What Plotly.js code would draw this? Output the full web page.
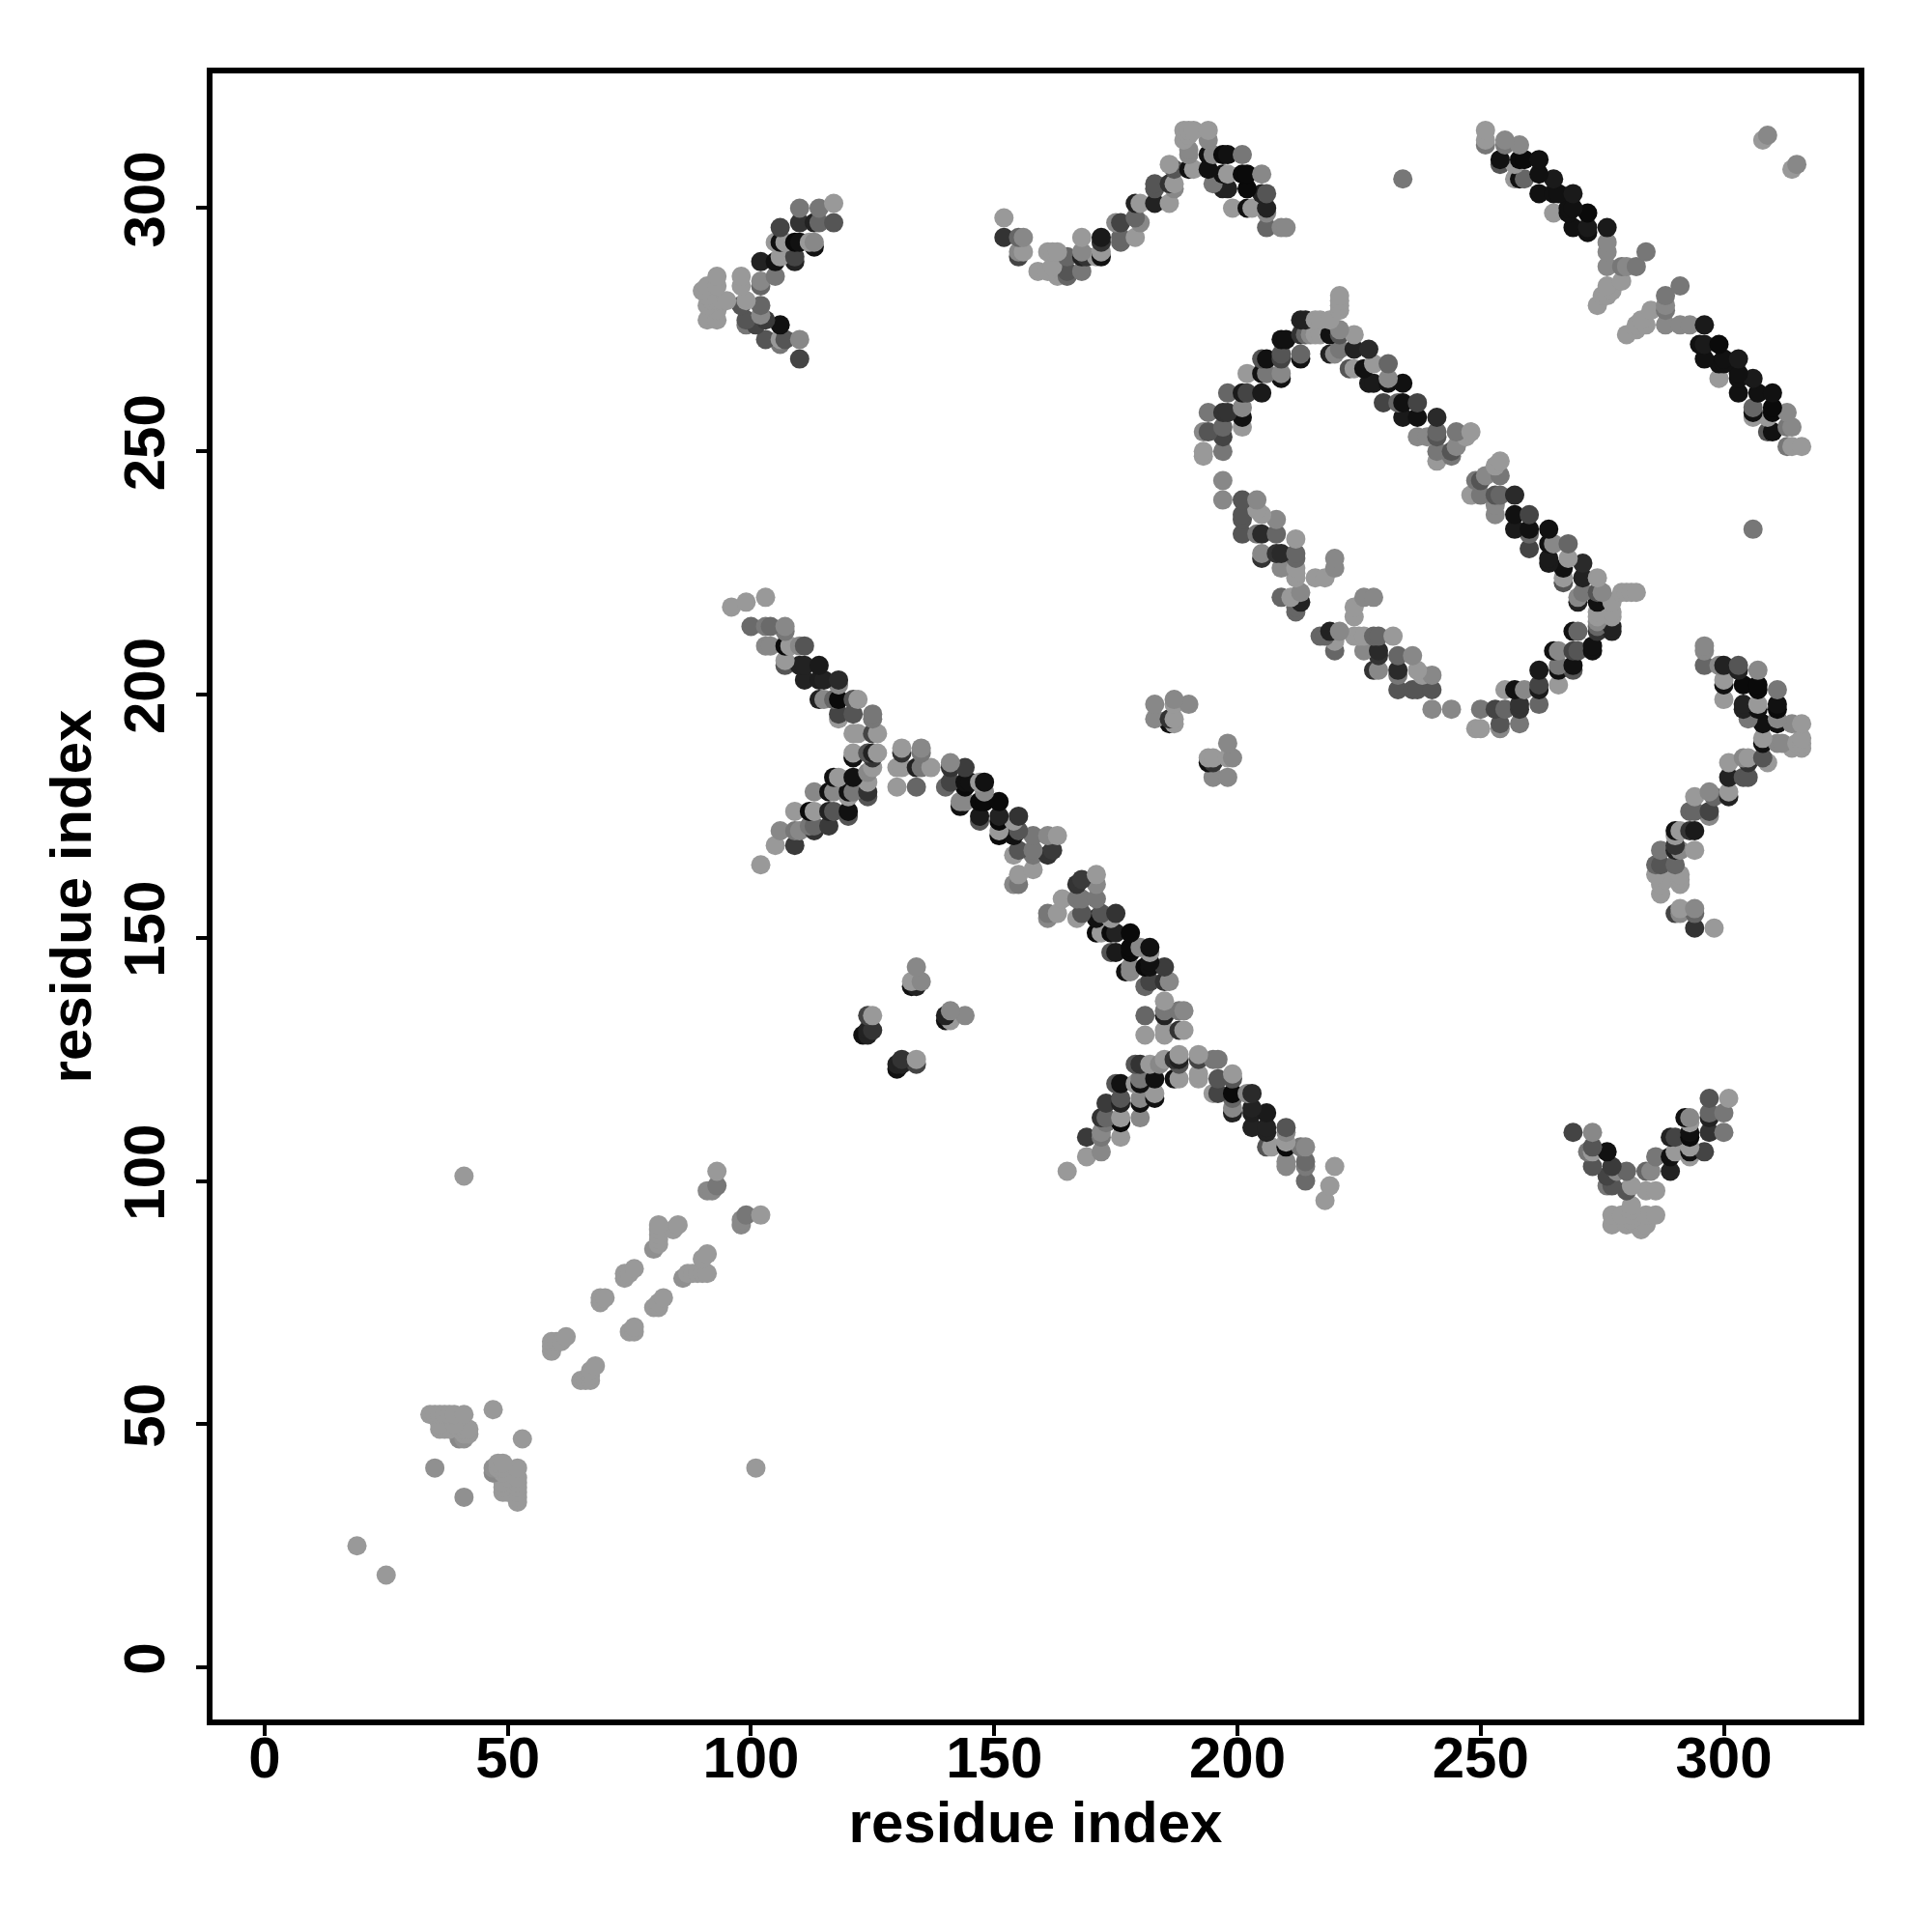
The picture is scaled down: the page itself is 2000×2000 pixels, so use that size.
<!DOCTYPE html>
<html>
<head>
<meta charset="utf-8">
<script src="https://cdn.plot.ly/plotly-3.0.1.min.js"></script>
<style>html,body{margin:0;padding:0;background:#fff}</style>
</head>
<body>
<div id="chart" style="width:2000px;height:2000px"></div>
<script>
const sparseLow = [
[19,25,0x99],[41,101,0x99],[93,102,0x99],[93,99,0x77],[91,98,0x88],[92,98,0x88],
[85,91,0x99],[84,90,0x99],[81,91,0x99],[81,90,0x99],[81,89,0x99],[81,88,0x99],[81,87,0x99],[80,86,0x90],
[76,82,0x99],[75,81,0x99],[74,81,0x99],[74,80,0x99],[70,76,0x99],[69,76,0x99],[69,75,0x99],
[62,68,0x99],[61,67,0x99],[60,67,0x99],[59,67,0x99],[59,66,0x99],[59,65,0x99],
[34,52,0x99],[35,52,0x99],[36,52,0x99],[37,52,0x99],[38,52,0x99],[39,52,0x99],[41,52,0x99],[47,53,0x99],
[36,50,0x99],[36,49,0x99],[37,49,0x99],[38,49,0x99],[39,50,0x99],[40,49,0x99],[41,49,0x99],[42,49,0x99],
[42,48,0x99],[41,48,0x99],[40,47,0x88],[41,47,0x90],[35,41,0x90]
];
const armNorthWest = [
[96,218,0x99],[99,219,0x99],[103,220,0x99],[100,214,0x6a],[103,214,0x7a],[104,214,0x6a],[107,214,0x88],[107,213,0x77],
[103,210,0x88],[104,210,0x88],[107,210,0x0a],[108,210,0x99],[110,210,0x88],[111,210,0x55],
[107,207,0x99],[107,206,0x55],[110,206,0x22],[111,206,0x22],[114,206,0x1a],
[111,203,0x22],[114,203,0x1e],[115,203,0x22],[118,203,0x2a],[118,202,0x88],
[114,199,0x22],[115,199,0x88],[117,199,0x66],[118,199,0x0a],[121,199,0x55],[122,199,0x99],
[118,196,0x44],[118,195,0x99],[121,196,0x55],[125,196,0x77],[125,195,0x77],
[121,192,0x99],[122,192,0x99],[125,192,0x44],[126,192,0x99],
[121,188,0x99],[121,187,0x11],[124,188,0x55],[125,188,0x22],[126,188,0x99],[125,187,0x33],[125,185,0x99],[124,184,0x88],[124,182,0x99],[124,180,0x33],[124,179,0x55],
[102,165,0x99],[105,169,0x99],[106,172,0x88],[109,169,0x3a],[109,176,0x99],[109,172,0x77],[110,172,0x88],
[113,180,0x88],[113,176,0x99],[112,176,0x0a],[113,172,0x33],[113,173,0x66],[112,173,0x77],[116,173,0x3a],
[117,183,0x11],[118,183,0x99],[121,183,0x11],[116,180,0x11],[117,180,0x88],[120,180,0x11],[121,180,0x77],[120,179,0x99],
[116,176,0x22],[117,176,0x55],[120,176,0x11],[120,175,0x55]
];
const bandCentre = [
[131,189,0x99],[131,188,0x33],[135,189,0x88],[135,188,0x77],[130,185,0x99],[131,185,0x99],[134,185,0x22],[135,185,0x77],[137,185,0x99],
[130,181,0x99],[134,181,0x66],
[141,186,0x88],[141,185,0x33],[144,185,0x3c],[140,181,0x66],[141,182,0x44],[144,182,0x11],[145,182,0x11],[144,181,0x0a],[147,182,0x99],[148,182,0x11],[148,180,0x88],
[143,178,0x88],[143,177,0x11],[144,178,0x88],[147,178,0x0a],[148,178,0x0a],[151,178,0x0a],
[147,175,0x1a],[147,174,0x55],[151,175,0x22],[151,174,0x0a],[155,175,0x33],[154,174,0x99],
[151,172,0x99],[151,171,0x0a],[155,172,0x55],[154,171,0x11],[158,171,0x77],[161,171,0x88],[163,171,0x99],
[155,168,0x55],[154,167,0x99],[158,168,0x77],[158,167,0x77],[162,168,0x3a],[161,167,0x33],
[155,163,0x99],[158,164,0x99],[155,161,0x77],[154,161,0x88]
];
const smallCross = [
[134,144,0x88],[135,141,0x88],[133,141,0x99],[133,140,0x11],[134,140,0x22],
[124,134,0x44],[125,134,0x99],[124,131,0x22],[125,131,0x33],[123,130,0x11],[124,130,0x22],
[183,198,0x88],[187,199,0x88],[190,198,0x88],[183,195,0x88],[187,198,0x99],[186,195,0x33],[186,194,0x11],[187,195,0x99],[187,194,0x99],
[234,306,0x77],[309,315,0x88],[308,314,0x99]
];
const hookUpper = [
[110,300,0x77],[114,300,0x77],[117,301,0x99],[106,296,0x44],[110,297,0x33],[113,297,0x22],[114,297,0x66],[117,297,0x55],
[105,293,0x99],[106,293,0x11],[107,293,0x99],[109,293,0x0a],[110,293,0x11],[112,293,0x99],[113,292,0x11],[113,293,0x88],
[102,289,0x22],[105,289,0x11],[106,290,0x99],[109,289,0x22],[109,290,0x44],
[105,286,0x77],[102,284,0x66],[102,285,0x88],[98,286,0x99],[98,284,0x99],
[93,286,0x99],[91,284,0x99],[90,283,0x99],[93,284,0x99],[91,282,0x99],[92,281,0x99],[93,281,0x99],[94,281,0x99],[95,281,0x99],
[91,277,0x99],[93,277,0x99],[91,280,0x99],[93,279,0x99],
[98,280,0x55],[99,281,0x99],[102,280,0x66],[102,278,0x88],[99,276,0x77],[99,277,0x55],
[101,276,0x44],[103,277,0x3a],[106,276,0x11],[103,273,0x55],[106,272,0x77],[106,273,0x99],[107,273,0x55],[110,273,0x88],[110,269,0x44]
];
const ridgeTop = [
[152,298,0x99],[152,294,0x33],[155,294,0x66],[156,294,0x88],[155,290,0x44],[155,291,0x88],[156,291,0x99],
[159,287,0x99],[161,291,0x99],[161,287,0x99],[162,291,0x99],[163,291,0x99],[162,288,0x99],[163,286,0x99],
[165,290,0x66],[165,286,0x66],[165,287,0x55],[168,287,0x77],[168,294,0x99],[168,290,0x22],[168,291,0x88],[169,290,0x33],
[172,294,0x1a],[172,293,0x33],[171,290,0x99],[172,290,0x11],[172,291,0x99],
[175,297,0x88],[176,297,0x44],[176,293,0x66],[176,294,0x66],[179,294,0x99],[179,298,0x66],[180,297,0x88],
[179,301,0x22],[180,301,0x99],[183,304,0x55],[183,305,0x55],[183,301,0x22],[186,301,0x99],[186,309,0x99],[186,305,0x33],[187,304,0x88],[187,305,0x99],[187,308,0x55],
[189,316,0x99],[190,316,0x99],[191,316,0x99],[189,314,0x99],[190,315,0x99],[190,312,0x88],[190,311,0x88],[190,308,0x11],[191,308,0x99],
[194,316,0x99],[194,314,0x88],[194,311,0x11],[195,311,0x88],[194,308,0x11],[195,305,0x77],
[197,311,0x0a],[198,311,0x11],[201,311,0x77],[197,307,0x11],[198,307,0x99],[197,304,0x22],[198,304,0x22],[199,300,0x99],
[201,307,0x0a],[202,307,0x0a],[205,307,0x88],[202,304,0x0a],[205,303,0x22],[206,303,0x55],[202,300,0x11],[203,300,0x99],
[206,299,0x88],[206,300,0x22],[206,296,0x66],[209,296,0x88],[210,296,0x88]
];
const bandUpperRight = [
[251,316,0x99],[251,314,0x99],[251,313,0x77],[255,314,0x88],[255,313,0x77],[258,313,0x88],
[254,309,0x55],[254,310,0x11],[257,309,0x99],[258,310,0x0a],[259,310,0x0a],[262,310,0x11],
[257,306,0x99],[258,306,0x11],[259,306,0x66],[262,307,0x11],[265,306,0x1a],[262,303,0x11],[265,303,0x11],[266,303,0x11],[269,303,0x1a],
[265,299,0x99],[268,299,0x11],[268,300,0x11],[269,300,0x11],[272,299,0x0a],[269,296,0x11],[272,296,0x1a],[276,296,0x1a],[272,295,0x11],
[276,293,0x88],[276,291,0x88],[276,288,0x88],[284,291,0x77],[279,288,0x77],[280,288,0x88],[282,288,0x77],
[279,285,0x99],[276,284,0x99],[277,283,0x99],[275,282,0x99],[276,282,0x99],[274,280,0x99]
];
const ringUpperLeft = [
[221,282,0x99],[221,281,0x99],[221,280,0x99],[221,279,0x99],
[213,277,0x22],[214,277,0x22],[216,277,0x99],[217,277,0x99],[219,277,0x99],[217,274,0x99],[216,274,0x99],
[213,274,0x33],[214,274,0x66],[215,274,0x88],[209,273,0x11],[210,273,0x11],
[209,270,0x55],[213,270,0x66],[205,269,0x55],[206,269,0x11],[209,269,0x44],[213,269,0x11],
[202,266,0x99],[205,266,0x11],[206,266,0x77],[209,265,0x11],[209,266,0x88],
[198,262,0x66],[201,262,0x1a],[202,262,0x44],[205,262,0x1a],
[201,257,0x11],[201,259,0x88],[194,258,0x77],[197,258,0x33],[198,258,0x33],
[193,254,0x88],[194,254,0x55],[197,253,0x44],[197,255,0x66],[201,255,0x99],
[193,250,0x99],[193,249,0x99],[197,250,0x77]
];
const ringUpperRight = [
[219,274,0x11],[221,275,0x88],[221,274,0x55],[224,274,0x99],
[219,270,0x22],[220,270,0x88],[221,271,0x77],[224,271,0x22],[227,271,0x2a],
[223,267,0x55],[224,267,0x99],[226,267,0x11],[228,268,0x99],[231,268,0x66],
[227,264,0x1a],[228,264,0x1a],[231,264,0x11],[231,265,0x88],[234,264,0x11],
[230,260,0x44],[233,260,0x66],[234,260,0x11],[237,260,0x44],[234,257,0x1a],[237,257,0x11],[241,257,0x2a],
[237,253,0x88],[239,253,0x88],[241,253,0x55],[241,254,0x66],[245,254,0x77],[247,253,0x99],[248,254,0x99],
[244,249,0x77],[244,250,0x55],[245,251,0x88],[241,250,0x77],[241,248,0x99]
];
const ringLower = [
[197,244,0x88],[197,240,0x88],[201,240,0x55],[204,240,0x88],[204,238,0x99],[201,237,0x55],[201,236,0x55],[205,237,0x99],[208,236,0x88],
[201,233,0x55],[204,233,0x77],[205,233,0x2a],[208,233,0x66],[212,232,0x99],
[205,228,0x33],[205,229,0x88],[208,229,0x33],[209,229,0x2a],[212,228,0x66],[212,229,0x66],[209,226,0x88],[212,226,0x99],[212,225,0x99],[212,224,0x99],
[216,224,0x99],[218,224,0x99],[220,228,0x88],[220,226,0x88],
[209,220,0x66],[211,220,0x99],[213,221,0x88],[213,219,0x22],[212,218,0x66],[212,217,0x66]
];
const tickValues = [0, 50, 100, 150, 200, 250, 300];
const tickLabels = ["0", "50", "100", "150", "200", "250", "300"];
const axisLabel = "residue index";

const contacts = [sparseLow, armNorthWest, bandCentre, smallCross, hookUpper, ridgeTop,
                  bandUpperRight, ringUpperLeft, ringUpperRight, ringLower].flat();
// A contact map is symmetric: every contact (i,j) is drawn at (j,i) too.
const all = contacts.concat(contacts.map(c => [c[1], c[0], c[2]]));
all.sort((a, b) => a[1] - b[1] || a[0] - b[0]);

const axisFont = {family: '"Liberation Sans", Arial, sans-serif', size: 60, color: '#000', weight: 700};
function axis(extra) {
  return Object.assign({
    range: [-10.7, 327.7], tickmode: 'array', tickvals: tickValues, ticktext: tickLabels,
    showgrid: false, zeroline: false, showline: true, mirror: true,
    linecolor: '#000', linewidth: 6, ticks: 'outside', ticklen: 11, tickwidth: 4, tickcolor: '#000',
    tickfont: axisFont
  }, extra);
}
Plotly.newPlot('chart', [{
  type: 'scatter', mode: 'markers',
  x: all.map(c => c[0]), y: all.map(c => c[1]),
  marker: {size: 20, color: all.map(c => `rgb(${c[2]},${c[2]},${c[2]})`), line: {width: 0}},
  cliponaxis: true, hoverinfo: 'x+y'
}], {
  width: 2000, height: 2000, showlegend: false,
  margin: {l: 220, r: 76, t: 76, b: 220, pad: 0},
  paper_bgcolor: '#fff', plot_bgcolor: '#fff',
  xaxis: axis({ticklabelstandoff: -29, title: {text: axisLabel, font: axisFont, standoff: 4}}),
  yaxis: axis({tickangle: -90, ticklabelstandoff: 9, title: {text: axisLabel, font: axisFont, standoff: 4}})
}, {displayModeBar: false, staticPlot: true});
</script>
</body>
</html>
